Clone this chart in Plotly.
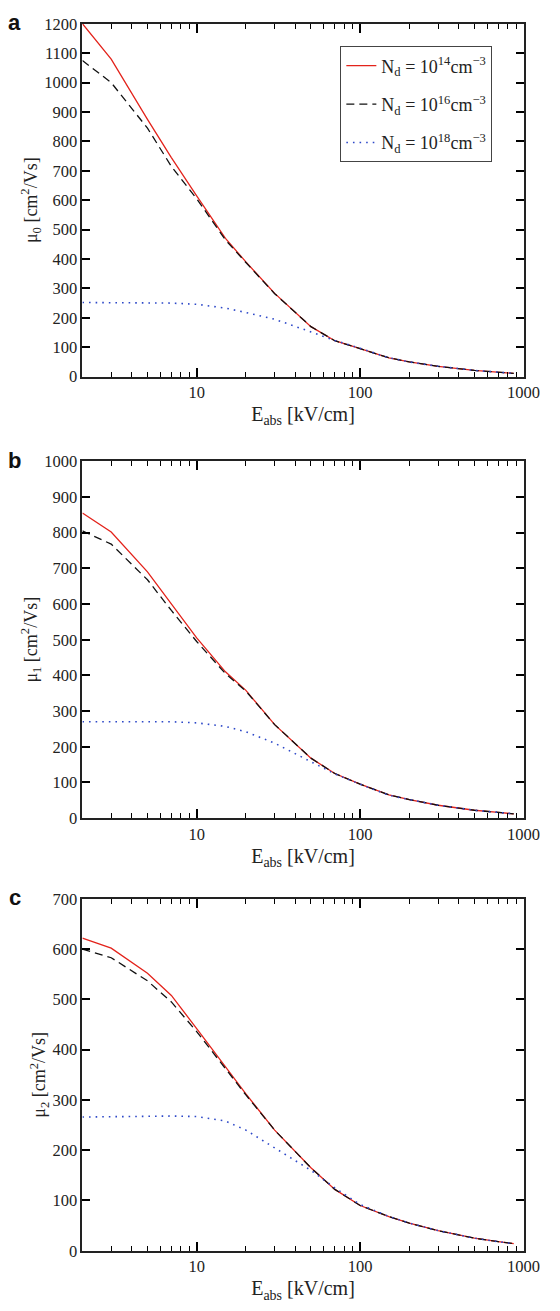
import plotly.graph_objects as go

# field strength grid [kV/cm]
e_abs = [2, 3, 5, 7, 10, 15, 20, 30, 50, 70, 100, 150, 200, 300, 500, 700, 870]

# panel a: mu_0
mu0_14 = [1200, 1080, 875, 745, 615, 470, 390, 283, 170, 122, 95, 64, 50, 35, 21, 15, 11]
mu0_16 = [1075, 1000, 845, 715, 605, 465, 388, 282, 170, 122, 95, 64, 50, 35, 21, 15, 11]
mu0_18 = [252, 252, 251, 250, 246, 233, 218, 195, 152, 123, 96, 64, 50, 35, 21, 15, 11]

# panel b: mu_1
mu1_14 = [855, 802, 690, 600, 505, 410, 358, 262, 168, 125, 95, 65, 52, 36, 22, 16, 12]
mu1_16 = [805, 768, 668, 582, 495, 405, 356, 262, 168, 125, 95, 65, 52, 36, 22, 16, 12]
mu1_18 = [270, 270, 270, 270, 267, 257, 242, 210, 158, 124, 95, 64, 52, 36, 22, 16, 12]

# panel c: mu_2
mu2_14 = [622, 602, 552, 508, 442, 365, 312, 240, 165, 122, 90, 68, 55, 40, 25, 18, 14]
mu2_16 = [600, 583, 537, 495, 436, 362, 310, 240, 165, 122, 90, 68, 55, 40, 25, 18, 14]
mu2_18 = [266, 267, 268, 268, 267, 258, 240, 205, 160, 125, 92, 68, 55, 40, 25, 18, 14]

names = ["N<sub>d</sub> = 10<sup>14</sup>cm<sup>−3</sup>",
         "N<sub>d</sub> = 10<sup>16</sup>cm<sup>−3</sup>",
         "N<sub>d</sub> = 10<sup>18</sup>cm<sup>−3</sup>"]
y_titles = ["μ<sub>0</sub> [cm<sup>2</sup>/Vs]",
            "μ<sub>1</sub> [cm<sup>2</sup>/Vs]",
            "μ<sub>2</sub> [cm<sup>2</sup>/Vs]"]
y_max = [1200, 1000, 700]
panel_labels = ["a", "b", "c"]

W, H = 560, 1311
SERIF = "Liberation Serif"
AX = "black"

def px_x(x):
    return x / W

def px_y(y):
    return 1 - y / H

# plot area boxes in pixels: (top, bottom)
boxes = [(15, 373), (459, 821), (903, 1260)]
left, right = 85, 540

styles = [dict(color="#e3231b", width=1.3, dash="solid"),
          dict(color="#111111", width=1.3, dash="8px,5px"),
          dict(color="#2d48c8", width=1.6, dash="1.6px,5px")]

fig = go.Figure()

data = [(mu0_14, mu0_16, mu0_18), (mu1_14, mu1_16, mu1_18), (mu2_14, mu2_16, mu2_18)]
for i, series in enumerate(data):
    xa = "x" if i == 0 else "x%d" % (i + 1)
    ya = "y" if i == 0 else "y%d" % (i + 1)
    for j, ys in enumerate(series):
        fig.add_trace(go.Scatter(
            x=e_abs, y=ys, mode="lines", name=names[j], line=styles[j],
            xaxis=xa, yaxis=ya, showlegend=(i == 0), legendgroup="g%d" % j
        ))

for i in range(3):
    top, bot = boxes[i]
    sfx = "" if i == 0 else str(i + 1)
    fig.update_layout({
        "xaxis" + sfx: dict(
            type="log", range=[0.30103, 3], domain=[px_x(left), px_x(right)],
            anchor="y" + sfx, tickmode="array", tickvals=[10, 100, 1000],
            ticktext=["10", "100", "1000"],
            ticks="inside", ticklen=9, tickwidth=1.5, tickcolor=AX,
            minor=dict(dtick="D1", ticks="inside", ticklen=5, tickwidth=1.2, tickcolor=AX),
            showline=True, linecolor="#222", linewidth=1.6, mirror="allticks",
            showgrid=False, zeroline=False,
            tickfont=dict(family=SERIF, size=16.5, color="#222"),
            title=dict(text="E<sub>abs</sub> [kV/cm]", standoff=6,
                       font=dict(family=SERIF, size=20, color="#222")),
        ),
        "yaxis" + sfx: dict(
            range=[0, y_max[i]], dtick=100, domain=[px_y(bot), px_y(top)],
            anchor="x" + sfx,
            ticks="inside", ticklen=8, tickwidth=1.5, tickcolor=AX,
            showline=True, linecolor="#222", linewidth=1.6, mirror="allticks",
            showgrid=False, zeroline=False,
            tickfont=dict(family=SERIF, size=16.5, color="#222"),
            title=dict(text=y_titles[i], standoff=2,
                       font=dict(family=SERIF, size=18, color="#222")),
        ),
    })
    fig.add_annotation(
        text="<b>%s</b>" % panel_labels[i], xref="paper", yref="paper",
        x=px_x(15), y=px_y(top - 1), xanchor="center", yanchor="middle",
        showarrow=False, font=dict(family="Liberation Sans", size=22, color="#111")
    )

fig.update_layout(
    width=W, height=H, margin=dict(l=0, r=0, t=0, b=0),
    plot_bgcolor="white", paper_bgcolor="white",
    legend=dict(x=px_x(351), y=px_y(38), xanchor="left", yanchor="top",
                bordercolor="#444", borderwidth=1, bgcolor="white",
                itemwidth=30, tracegroupgap=12,
                font=dict(family=SERIF, size=18, color="#222")),
)

fig.write_html("out.html", config={"displayModeBar": False},
               post_script="document.body.style.margin='0';")
